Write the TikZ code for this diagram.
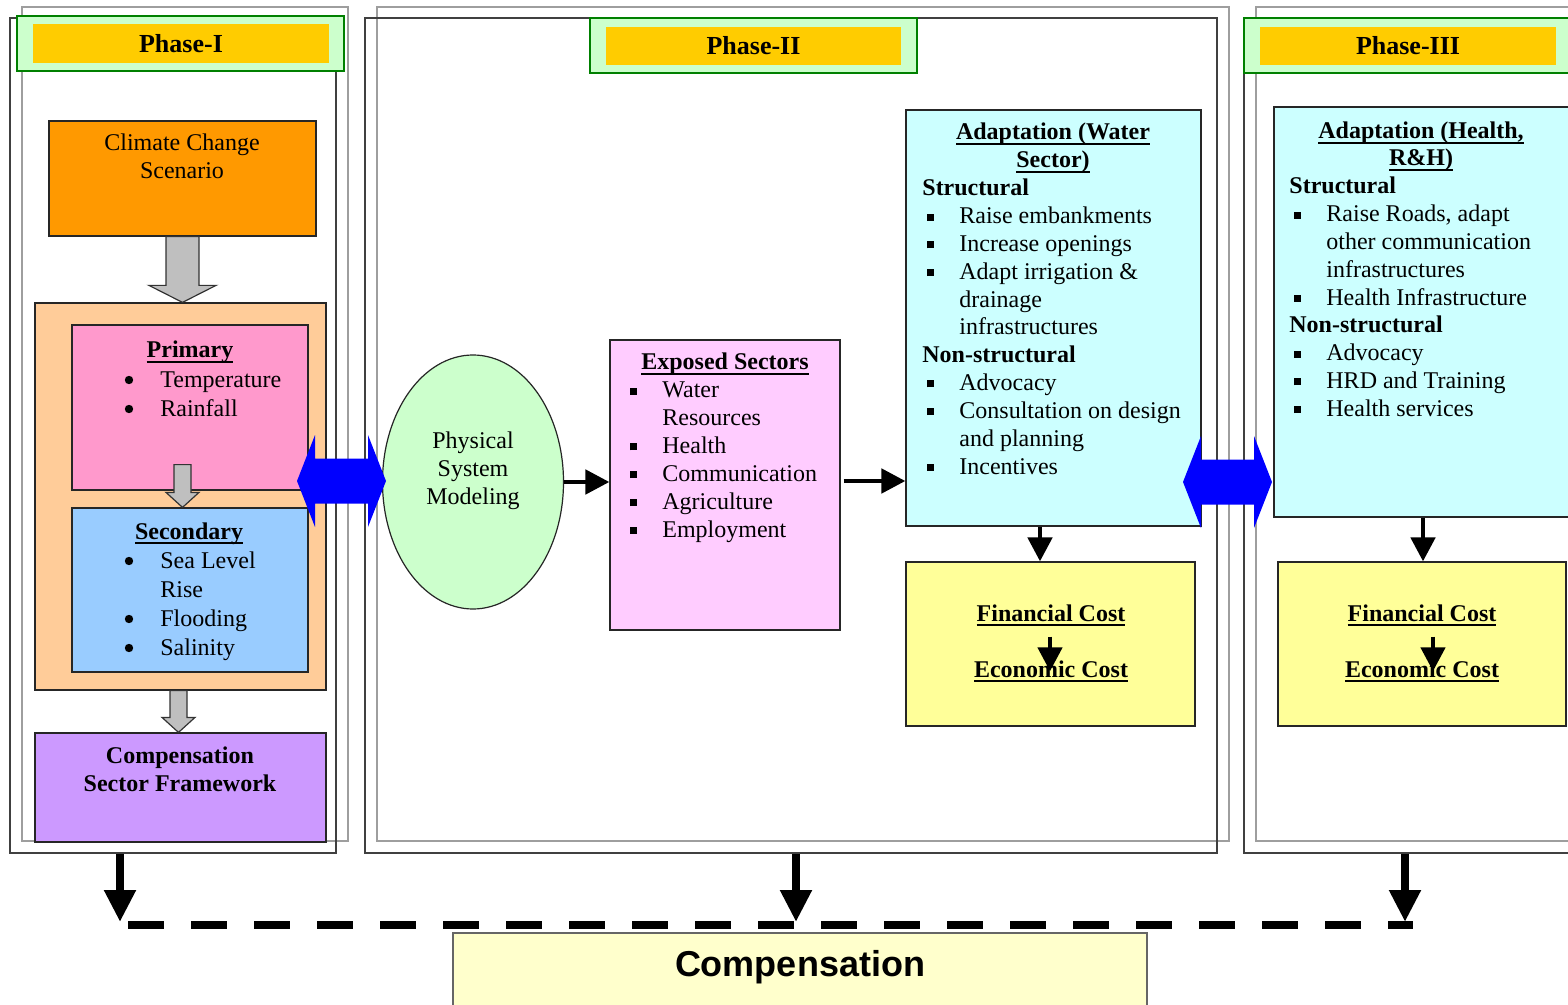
\documentclass[tikz,border=0pt]{standalone}
\usepackage{fontspec}
\setmainfont{Liberation Serif}
\newfontfamily\compfont{Liberation Sans}
\usetikzlibrary{positioning,fit,calc,shapes.geometric,arrows.meta}

\definecolor{phasegreen}{HTML}{CCFFCC}
\definecolor{phaseedge}{HTML}{008000}
\definecolor{phaseyellow}{HTML}{FFCC00}
\definecolor{climorange}{HTML}{FF9900}
\definecolor{impactpeach}{HTML}{FFCC99}
\definecolor{primpink}{HTML}{FF99CC}
\definecolor{secblue}{HTML}{99CCFF}
\definecolor{comppurple}{HTML}{CC99FF}
\definecolor{expink}{HTML}{FFCCFF}
\definecolor{adcyan}{HTML}{CCFFFF}
\definecolor{costyellow}{HTML}{FFFF99}
\definecolor{compyellow}{HTML}{FFFFCC}

\tikzset{
  box/.style={draw=black!85, line width=0.6pt, inner sep=0pt},
  frameout/.style={draw=black!75, line width=0.7pt, inner sep=0pt},
  framein/.style={draw=black!38, line width=0.7pt, inner sep=0pt},
  hdrout/.style={draw=phaseedge, fill=phasegreen, line width=0.6pt, inner sep=0pt},
  hdrin/.style={fill=phaseyellow, inner sep=0pt},
  hdtxt/.style={inner sep=0pt, font=\bfseries\fontsize{13}{15}\selectfont},
  txt/.style={anchor=base west, inner sep=0pt, font=\fontsize{12}{14}\selectfont},
  ctxt/.style={anchor=base, inner sep=0pt, font=\fontsize{12}{14}\selectfont},
  blk/.style={line width=2.4pt, -{Triangle[length=12pt,width=12pt]}},
  blkbig/.style={line width=4pt, -{Triangle[length=16pt,width=15pt]}},
  grayarr/.style={draw=black!80, fill=black!25, line width=0.6pt},
  dashline/.style={line width=4pt, dash pattern=on 18pt off 13.5pt},
}

\newcommand{\sqb}{\llap{\rule[1.6pt]{3.5pt}{3.5pt}\hspace{12.5pt}}}
\newcommand{\hd}[1]{\hspace*{-18.5pt}\textbf{#1}}
\newcommand{\utitle}[1]{\setbox0\hbox{\textbf{#1}}\rlap{\rule[-2.6pt]{\wd0}{1pt}}\box0}
% block arrow: from, to, shaft half width, head half width, head length
\newcommand{\grayarrow}[5]{\draw[grayarr] let \p1=(#1), \p2=(#2) in
  (\x1-#3,\y1) -- (\x1-#3,\y2+#5) -- (\x1-#4,\y2+#5) -- (\x1,\y2)
  -- (\x1+#4,\y2+#5) -- (\x1+#3,\y2+#5) -- (\x1+#3,\y1) -- cycle;}
\newcommand{\bluearrow}[2]{\fill[blue] let \p1=(#1), \p2=(#2) in
  (\x1,\y1) -- (\x1+9pt,\y1+23pt) -- (\x1+9pt,\y1+11.25pt) -- (\x2-9pt,\y1+11.25pt)
  -- (\x2-9pt,\y1+23pt) -- (\x2,\y1) -- (\x2-9pt,\y1-23pt) -- (\x2-9pt,\y1-11.25pt)
  -- (\x1+9pt,\y1-11.25pt) -- (\x1+9pt,\y1-23pt) -- cycle;}

\begin{document}
\begin{tikzpicture}[x=0.5pt,y=-0.5pt]
\useasboundingbox (0,0) rectangle (1568,1005);
\fill[white] (0,0) rectangle (1568,1005);

% phase frames
\node[framein, fit={(22,7) (348,841)}] (g1) {};
\node[framein, fit={(377,7) (1229,841)}] (g2) {};
\node[framein, fit={(1256,7) (1620,841)}] (g3) {};
\node[frameout, fit={(10,18) (336,853)}] (f1) {};
\node[frameout, fit={(365,18) (1217,853)}] (f2) {};
\node[frameout, fit={(1244,18) (1620,853)}] (f3) {};

% headers
\node[hdrout, fit={(17,16) (344,71)}] (h1) {};
\node[hdrin, fit={(33,24) (329,63)}] (h1in) {};
\node[hdtxt] (p1) at (h1in) {Phase-I};
\node[hdrout, fit={(590,18) (917,73)}] (h2) {};
\node[hdrin, fit={(606,27) (901,65)}] (h2in) {};
\node[hdtxt] (p2) at (h2in) {Phase-II};
\node[hdrout, fit={(1244,18) (1620,73)}] (h3) {};
\node[hdrin, fit={(1260,27) (1556,65)}] (h3in) {};
\node[hdtxt] (p3) at (h3in) {Phase-III};

% phase I
\node[box, fill=climorange, fit={(49,121) (316,236)}] (climate) {};
\node[ctxt] (cl-1) at (182,151) {Climate Change};
\node[ctxt] (cl-2) at (182,179) {Scenario};
\node[box, fill=impactpeach, fit={(35,303) (326,690)}] (impact) {};
\node[box, fill=primpink, fit={(72,325) (308,490)}] (primary) {};
\node[box, fill=secblue, fit={(72,508) (308,672)}] (secondary) {};
\node[box, fill=comppurple, fit={(35,733) (326,842)}] (csf) {};

\node[ctxt] (pr-t) at (190,358) {\utitle{Primary}};
\foreach \t [count=\i from 0] in {Temperature, Rainfall}
  \node[txt] (pr-\i) at (160,387+29*\i) {\t};
\node[ctxt] (se-t) at (189,539) {\utitle{Secondary}};
\foreach \t [count=\i from 0] in {Sea Level, Rise, Flooding, Salinity}
  \node[txt] (se-\i) at (160,568+29*\i) {\t};
\foreach \y in {380,409,561,619,648}
  \fill (129,\y) circle (2.1pt);
\node[ctxt] (cs-1) at (180,763) {\textbf{Compensation}};
\node[ctxt] (cs-2) at (180,791) {\textbf{Sector Framework}};

\grayarrow{climate.south}{impact.north}{8.25pt}{16.75pt}{8.5pt}
\grayarrow{$(primary.south)+(-7.5,-26)$}{secondary.north}{4.25pt}{8.25pt}{7.5pt}
\grayarrow{$(impact.south)+(-2,0)$}{csf.north}{4.25pt}{8.25pt}{7.5pt}

% phase II
\node[box, ellipse, fill=phasegreen, minimum width=90.5pt, minimum height=127pt] (model) at (473,482) {};
\foreach \t [count=\i from 0] in {Physical, System, Modeling}
  \node[ctxt] (mo-\i) at (473,448+28*\i) {\t};

\node[box, fill=expink, fit={(610,340) (840,630)}] (exposed) {};
\node[ctxt] (ex-t) at (725,370) {\utitle{Exposed Sectors}};
\foreach \t [count=\i from 0] in {\sqb Water, Resources, \sqb Health, \sqb Communication, \sqb Agriculture, \sqb Employment}
  \node[txt] (ex-\i) at (662,398+27.8*\i) {\t};

\node[box, fill=adcyan, fit={(906,110) (1201,526)}] (adw) {};
\node[ctxt] (aw-t1) at (1053,140) {\utitle{Adaptation (Water}};
\node[ctxt] (aw-t2) at (1053,168) {\utitle{Sector)}};
\foreach \t [count=\i from 0] in {\hd{Structural}, \sqb Raise embankments, \sqb Increase openings,
    \sqb Adapt irrigation \&, drainage, infrastructures, \hd{Non-structural}, \sqb Advocacy,
    \sqb Consultation on design, and planning, \sqb Incentives}
  \node[txt] (aw-\i) at (959,196+27.8*\i) {\t};

\node[box, fill=costyellow, fit={(906,562) (1195,726)}] (fw) {};
\node[ctxt] (fin1) at (1051,621) {\utitle{Financial Cost}};
\node[ctxt] (eco1) at (1051,677) {\utitle{Economic Cost}};

% phase III
\node[box, fill=adcyan, fit={(1274,107) (1620,517)}] (adh) {};
\node[ctxt] (ah-t1) at (1421,139) {\utitle{Adaptation (Health,}};
\node[ctxt] (ah-t2) at (1421,166) {\utitle{R\&H)}};
\foreach \t [count=\i from 0] in {\hd{Structural}, {\sqb Raise Roads, adapt}, other communication,
    infrastructures, \sqb Health Infrastructure, \hd{Non-structural}, \sqb Advocacy,
    \sqb HRD and Training, \sqb Health services}
  \node[txt] (ah-\i) at (1326,194+27.8*\i) {\t};

\node[box, fill=costyellow, fit={(1278,562) (1566,726)}] (fh) {};
\node[ctxt] (fin2) at (1422,621) {\utitle{Financial Cost}};
\node[ctxt] (eco2) at (1422,677) {\utitle{Economic Cost}};

% connectors
\draw[blk] (model.east) -- (model.east -| exposed.west);
\coordinate (e1) at ($(exposed.east)+(3,-4)$);
\draw[blk] (e1) -- (e1 -| adw.west);
\coordinate (wa) at ($(fw.north)+(-10.5,0)$);
\draw[blk] (wa |- adw.south) -- (wa);
\coordinate (ha) at ($(fh.north)+(1,0)$);
\draw[blk] (ha |- adh.south) -- (ha);
\draw[blk] ($(fin1.south)+(-1,10)$) coordinate (fa1) -- (fa1 |- eco1.center);
\draw[blk] ($(fin2.south)+(11,10)$) coordinate (fa2) -- (fa2 |- eco2.center);

\coordinate (ba1) at (297,481);
\coordinate (bb1) at (386,481);
\bluearrow{ba1}{bb1}
\coordinate (ba2) at (1183,482);
\coordinate (bb2) at (1272,482);
\bluearrow{ba2}{bb2}

% compensation
\coordinate (dl) at (128,925);
\coordinate (dr) at (1413,925);
\draw[dashline] (dl) -- (dr);
\coordinate (d1) at (120,922);
\coordinate (d2) at (796,922);
\coordinate (d3) at (1405,922);
\foreach \d/\f in {d1/f1, d2/f2, d3/f3}
  \draw[blkbig] (\d |- \f.south) -- (\d);
\node[box, draw=black!60, fill=compyellow, fit={(453,933) (1147,1015)}] (comp) {};
\node[font=\compfont\bfseries\fontsize{18}{20}\selectfont] (comp-t) at (800,967) {Compensation};
\end{tikzpicture}
\end{document}
